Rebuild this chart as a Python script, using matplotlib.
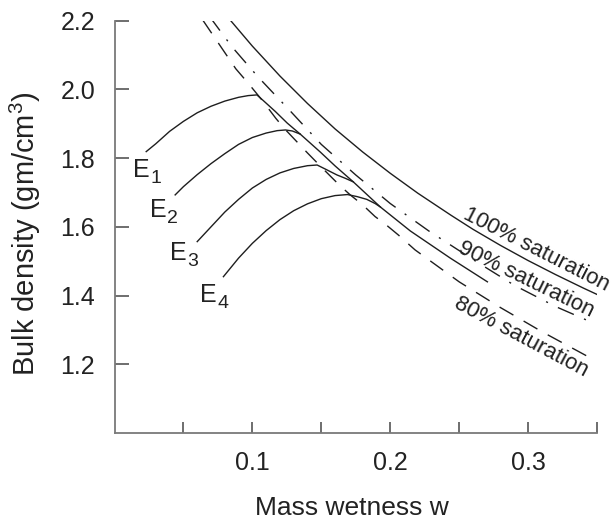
import matplotlib
matplotlib.use("Agg")
import matplotlib.pyplot as plt

plt.rcParams['font.family'] = ['Liberation Sans', 'DejaVu Sans']
plt.rcParams['mathtext.fontset'] = 'custom'
plt.rcParams['mathtext.rm'] = 'Liberation Sans'
plt.rcParams['mathtext.it'] = 'Liberation Sans'
plt.rcParams['mathtext.default'] = 'regular'

# ---- data ----
# saturation lines (mass wetness w, bulk density)
sat100_w = [0.082, 0.100, 0.120, 0.140, 0.160, 0.180, 0.200, 0.220, 0.244, 0.260, 0.280, 0.300, 0.320, 0.340, 0.355]
sat100_rho = [2.211, 2.126, 2.039, 1.959, 1.885, 1.818, 1.756, 1.698, 1.634, 1.593, 1.546, 1.502, 1.461, 1.422, 1.394]

sat90_w = [0.069, 0.085, 0.104, 0.128, 0.150, 0.175, 0.200, 0.228, 0.260, 0.290, 0.320, 0.348]
sat90_rho = [2.212, 2.125, 2.037, 1.935, 1.840, 1.751, 1.668, 1.588, 1.505, 1.430, 1.368, 1.319]

sat80_w = [0.064, 0.077, 0.088, 0.097, 0.107, 0.117, 0.123, 0.140, 0.152, 0.163, 0.171, 0.180,
           0.189, 0.197, 0.206, 0.218, 0.250, 0.280, 0.310, 0.348]
sat80_rho = [2.202, 2.125, 2.060, 2.018, 1.969, 1.916, 1.887, 1.815, 1.766, 1.722, 1.693, 1.664,
             1.630, 1.606, 1.576, 1.533, 1.440, 1.365, 1.295, 1.2125]

# compaction curves E1..E4 (E1 continues along the wet-side envelope)
E1_w = [0.023, 0.030, 0.040, 0.050, 0.060, 0.070, 0.080, 0.090, 0.097, 0.1033,
        0.1078, 0.1166, 0.1253, 0.1347, 0.1492, 0.1601, 0.1732, 0.1928, 0.2146, 0.2436, 0.2705]
E1_rho = [1.819, 1.842, 1.878, 1.907, 1.932, 1.951, 1.966, 1.977, 1.982, 1.984,
          1.968, 1.936, 1.902, 1.870, 1.818, 1.777, 1.731, 1.658, 1.588, 1.509, 1.440]

E2_w = [0.044, 0.050, 0.060, 0.070, 0.080, 0.090, 0.100, 0.110, 0.118, 0.124, 0.129, 0.1347]
E2_rho = [1.693, 1.717, 1.752, 1.784, 1.813, 1.840, 1.860, 1.873, 1.880, 1.882, 1.879, 1.870]

E3_w = [0.060, 0.070, 0.080, 0.090, 0.100, 0.110, 0.120, 0.130, 0.140, 0.147, 0.154, 0.1614, 0.167, 0.1732]
E3_rho = [1.557, 1.600, 1.643, 1.680, 1.713, 1.738, 1.757, 1.770, 1.778, 1.780, 1.766, 1.751, 1.742, 1.731]

E4_w = [0.079, 0.090, 0.100, 0.110, 0.120, 0.130, 0.140, 0.150, 0.160, 0.169, 0.176, 0.183, 0.189, 0.1928]
E4_rho = [1.455, 1.509, 1.552, 1.589, 1.621, 1.647, 1.667, 1.682, 1.691, 1.694, 1.688, 1.680, 1.668, 1.658]

E_main = ["E", "E", "E", "E"]
E_sub = ["1", "2", "3", "4"]
E_label_w = [0.0134, 0.0258, 0.0403, 0.0621]
E_label_rho = [1.745, 1.629, 1.504, 1.381]

sat_labels = ["100% saturation", "90% saturation", "80% saturation"]
sat_label_w = [0.2524, 0.2487, 0.2456]
sat_label_rho = [1.626, 1.528, 1.366]
sat_label_rot = [-27, -26, -28]

xticks = [0.05, 0.10, 0.15, 0.20, 0.25, 0.30, 0.35]
xticklabels = ["", "0.1", "", "0.2", "", "0.3", ""]
yticks = [1.2, 1.4, 1.6, 1.8, 2.0, 2.2]
yticklabels = ["1.2", "1.4", "1.6", "1.8", "2.0", "2.2"]

# ---- figure ----
W, H = 612, 526
fig = plt.figure(figsize=(W / 100, H / 100), dpi=100)
L, R, B, T = 114.5, 597, 433, 20.7
ax = fig.add_axes([L / W, (H - B) / H, (R - L) / W, (B - T) / H])
ax.set_xlim(0, 0.35)
ax.set_ylim(1.0, 2.2)

lc = '#1e1e1e'
lw = 1.0
ax.plot(sat100_w, sat100_rho, color=lc, lw=lw, solid_capstyle='butt')
ax.plot(sat90_w, sat90_rho, color=lc, lw=lw, dashes=(12.5, 8.0, 1.5, 8.0))
ax.plot(sat80_w, sat80_rho, color=lc, lw=lw, dashes=(11.5, 8.5))
for xs, ys in [(E1_w, E1_rho), (E2_w, E2_rho), (E3_w, E3_rho), (E4_w, E4_rho)]:
    ax.plot(xs, ys, color=lc, lw=lw)

tc = '#222222'
for m, s, x, y in zip(E_main, E_sub, E_label_w, E_label_rho):
    ax.text(x, y, m, fontsize=18, color=tc, ha='left', va='baseline')
    ax.annotate(s, (x, y), xytext=(12.3, -4.5), textcoords='offset points',
                fontsize=14, color=tc, ha='left', va='baseline')

for lab, x, y, r in zip(sat_labels, sat_label_w, sat_label_rho, sat_label_rot):
    ax.text(x, y, lab, fontsize=16, color=tc, rotation=r,
            rotation_mode='anchor', ha='left', va='baseline')

for s in ['top', 'right']:
    ax.spines[s].set_visible(False)
for s in ['left', 'bottom']:
    ax.spines[s].set_color('#7a7a7a')
    ax.spines[s].set_linewidth(1.3)

ax.set_xticks(xticks)
ax.set_xticklabels(xticklabels)
ax.set_yticks(yticks)
ax.set_yticklabels(yticklabels)
ax.tick_params(axis='x', direction='in', length=8, width=1.2, color='#555555',
               labelsize=18, labelcolor=tc, pad=13)
ax.tick_params(axis='y', direction='in', length=10, width=1.2, color='#555555',
               labelsize=18, labelcolor=tc, pad=14)

fig.text(351.5 / W, 1 - 515 / H, "Mass wetness w", fontsize=19, color=tc,
         ha='center', va='baseline')
fig.text(25 / W, 1 - 234 / H, "Bulk density (gm/cm$^3$)", fontsize=21, color=tc,
         rotation=90, ha='center', va='center')

fig.savefig("out.png", dpi=100)
